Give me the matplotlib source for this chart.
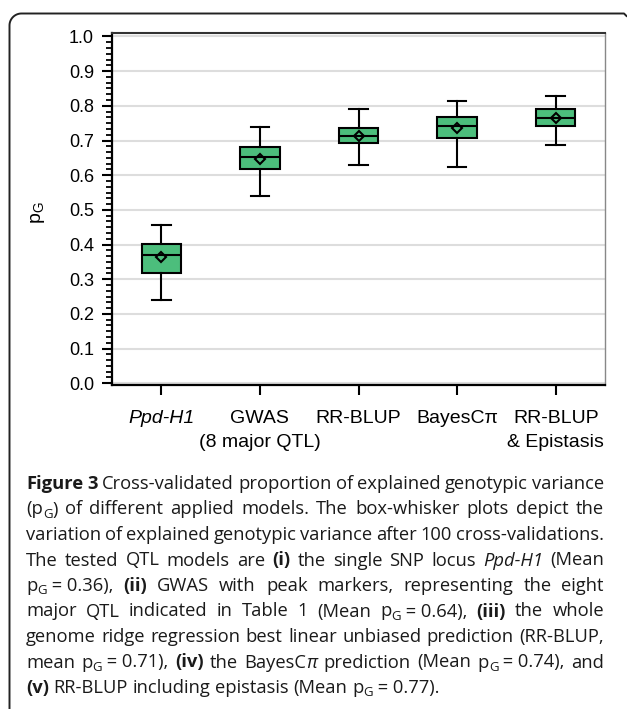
import re
import numpy as np
import matplotlib
matplotlib.use('Agg')
import matplotlib.pyplot as plt
from matplotlib.ticker import AutoMinorLocator
from matplotlib.lines import Line2D

# Box-whisker summaries (p_G per model)
models = ['Ppd-H1', 'GWAS\n(8 major QTL)', 'RR-BLUP', 'BayesC\u03c0', 'RR-BLUP\n& Epistasis']
whislo = [0.240, 0.541, 0.630, 0.624, 0.686]
q1 = [0.319, 0.618, 0.692, 0.708, 0.741]
med = [0.370, 0.653, 0.713, 0.742, 0.765]
mean = [0.363, 0.646, 0.713, 0.737, 0.764]
q3 = [0.403, 0.681, 0.736, 0.769, 0.791]
whishi = [0.456, 0.740, 0.790, 0.814, 0.829]
yticks = [0.0, 0.1, 0.2, 0.3, 0.4, 0.5, 0.6, 0.7, 0.8, 0.9, 1.0]

# caption: **bold**, *italic*, _G subscript, \u00a0 = no-break space
caption = [
    "**Figure 3** Cross-validated proportion of explained genotypic variance",
    "(p_G) of different applied models. The box-whisker plots depict the",
    "variation of explained genotypic variance after 100 cross-validations.",
    "The tested QTL models are **(i)** the single SNP locus *Ppd-H1* (Mean",
    "p_G\u00a0=\u00a00.36), **(ii)** GWAS with peak markers, representing the eight",
    "major QTL indicated in Table 1 (Mean p_G\u00a0=\u00a00.64), **(iii)** the whole",
    "genome ridge regression best linear unbiased prediction (RR-BLUP,",
    "mean p_G\u00a0=\u00a00.71), **(iv)** the BayesC*\u03c0* prediction (Mean p_G\u00a0=\u00a00.74), and",
    "**(v)** RR-BLUP including epistasis (Mean p_G\u00a0=\u00a00.77).",
]

W, H = 627, 709
plt.rcParams['font.family'] = ['Liberation Sans', 'DejaVu Sans']
plt.rcParams['mathtext.fontset'] = 'custom'
plt.rcParams['mathtext.rm'] = 'Liberation Sans'

fig = plt.figure(figsize=(W / 100, H / 100), dpi=100)
ax = fig.add_axes([112 / W, 1 - 385 / H, (605 - 112) / W, (385 - 33) / H])

stats = []
for i in range(len(models)):
    stats.append(dict(label=models[i], whislo=whislo[i], q1=q1[i], med=med[i], mean=mean[i],
                      q3=q3[i], whishi=whishi[i], fliers=[]))
ax.bxp(stats, positions=range(1, 6), widths=0.4, capwidths=0.19, patch_artist=True,
       showmeans=True, meanline=False,
       boxprops=dict(facecolor='#4cbe7c', edgecolor='black', linewidth=1.5),
       medianprops=dict(color='black', linewidth=1.5),
       whiskerprops=dict(color='black', linewidth=1.5),
       capprops=dict(color='black', linewidth=1.5),
       meanprops=dict(marker='D', markerfacecolor='none', markeredgecolor='black',
                      markersize=5, markeredgewidth=1.5))

ax.set_xlim(0.5, 5.5)
ax.set_ylim(-0.005, 1.01)
ax.set_yticks(yticks)
ax.set_yticklabels(['%.1f' % v for v in yticks])
ax.yaxis.set_minor_locator(AutoMinorLocator(6))
ax.set_xticks(range(1, 6))
ax.set_xticklabels(models)
for t in ax.get_xticklabels():
    t.set_linespacing(1.5)
ax.get_xticklabels()[0].set_style('italic')
ax.tick_params(axis='both', which='major', direction='out', width=1.5, color='black')
ax.tick_params(axis='y', which='major', labelsize=13, length=7, pad=6)
ax.tick_params(axis='y', which='minor', length=4, width=1.3, direction='out')
ax.tick_params(axis='x', which='major', labelsize=14, length=7, pad=11)
ax.yaxis.grid(True, color='#dddddd', linewidth=1.5)
ax.set_axisbelow(True)
for s in ['left', 'bottom']:
    ax.spines[s].set_linewidth(1.6)
    ax.spines[s].set_color('black')
ax.spines['top'].set_linewidth(1.5)
ax.spines['top'].set_color('#333333')
ax.spines['right'].set_linewidth(1.0)
ax.spines['right'].set_color('#888888')

ax.set_ylabel(r'p$_{\mathrm{G}}$', fontsize=14, rotation=90)
ax.yaxis.set_label_coords(-0.132, 0.49)

# rounded frame (top and left edges)
r = 12
ang = np.linspace(np.pi / 2, np.pi, 20)
fxs = [626.5, 624] + list(9.5 + r + r * np.cos(ang)) + [9.5]
fys = [16, 13.5] + list(13.5 + r - r * np.sin(ang)) + [708]
fig.add_artist(Line2D(np.array(fxs) / W, 1 - np.array(fys) / H, transform=fig.transFigure,
                      color='#222222', linewidth=1.4))

# caption, justified word by word
def parse(line):
    runs = []
    for tok in re.split(r'(\*\*.+?\*\*|\*.+?\*|_G)', line):
        if not tok:
            continue
        if tok.startswith('**'):
            runs.append((tok[2:-2], 'b'))
        elif tok.startswith('*'):
            runs.append((tok[1:-1], 'i'))
        elif tok == '_G':
            runs.append(('G', 's'))
        else:
            runs.append((tok, 'n'))
    words = [[]]
    for text, fmt in runs:
        parts = text.split(' ')
        for k, p in enumerate(parts):
            if k > 0:
                words.append([])
            if p:
                words[-1].append((p, fmt))
    return [w for w in words if w]

renderer = fig.canvas.get_renderer()
styles = {'n': dict(), 'b': dict(weight='bold'), 'i': dict(style='italic'), 's': dict()}
cap_size = 13.2
cap_font = ['Open Sans', 'DejaVu Sans']
cx0, cx1 = 26, 604

def measure(text, **kw):
    t = fig.text(0, 0, text, **kw)
    w = t.get_window_extent(renderer).width
    t.remove()
    return w

space_w = measure('a a', fontsize=cap_size, family=cap_font) - measure('aa', fontsize=cap_size, family=cap_font)

for li, line in enumerate(caption):
    base = 489 + li * 25.5
    words = parse(line)
    items, widths = [], []
    for w in words:
        ts, wsum = [], 0
        for text, fmt in w:
            size = cap_size * 0.72 if fmt == 's' else cap_size
            t = fig.text(0, 0, text, fontsize=size, family=cap_font, color='#1a1a1a',
                         va='baseline', **styles[fmt])
            ts.append((t, fmt, wsum))
            wsum += t.get_window_extent(renderer).width
        items.append(ts)
        widths.append(wsum)
    if li < len(caption) - 1 and len(words) > 1:
        gap = max((cx1 - cx0 - sum(widths)) / (len(words) - 1), 0.6 * space_w)
    else:
        gap = space_w
    x = cx0
    for ts, wsum in zip(items, widths):
        for t, fmt, off in ts:
            yy = base + (3.5 if fmt == 's' else 0)
            t.set_position(((x + off) / W, 1 - yy / H))
        x += wsum + gap

fig.savefig('out.png', dpi=100)
